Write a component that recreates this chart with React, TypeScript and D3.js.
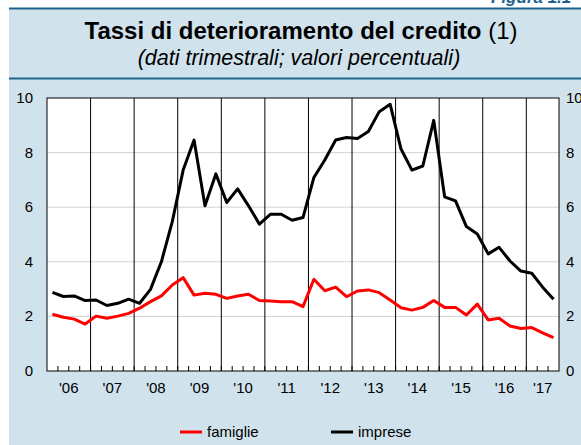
import React from 'react';
import * as d3 from 'd3';

const years = [2006, 2007, 2008, 2009, 2010, 2011, 2012, 2013, 2014, 2015, 2016, 2017];
const quartersPerYear = [4, 4, 4, 4, 4, 4, 4, 4, 4, 4, 4, 3];
const yearLabels = ["'06", "'07", "'08", "'09", "'10", "'11", "'12", "'13", "'14", "'15", "'16", "'17"];
const yTicks = [0, 2, 4, 6, 8, 10];

const famiglie = [
  2.08, 1.97, 1.90, 1.72, 2.01, 1.93, 2.01, 2.11, 2.30, 2.54, 2.75, 3.15,
  3.42, 2.78, 2.85, 2.81, 2.66, 2.75, 2.81, 2.58, 2.56, 2.54, 2.54, 2.36,
  3.36, 2.94, 3.07, 2.72, 2.93, 2.97, 2.87, 2.60, 2.32, 2.23, 2.33, 2.58,
  2.33, 2.33, 2.05, 2.45, 1.87, 1.93, 1.65, 1.56, 1.59, 1.40, 1.22,
];
const imprese = [
  2.88, 2.73, 2.75, 2.58, 2.60, 2.40, 2.48, 2.63, 2.48, 2.99, 4.00, 5.47,
  7.36, 8.46, 6.05, 7.22, 6.17, 6.67, 6.05, 5.38, 5.74, 5.74, 5.52, 5.62,
  7.09, 7.73, 8.46, 8.55, 8.52, 8.77, 9.50, 9.77, 8.13, 7.36, 7.51, 9.18,
  6.38, 6.23, 5.29, 5.02, 4.29, 4.53, 4.03, 3.66, 3.58, 3.07, 2.63,
];

const quarters: string[] = [];
years.forEach((y, i) => {
  for (let q = 1; q <= quartersPerYear[i]; q++) quarters.push(`${y}Q${q}`);
});

const W = 581;
const H = 445;
const M = { left: 47, right: 559, top: 98, bottom: 371 };
const FONT = 'Liberation Sans, Arial, Helvetica, sans-serif';

export default function App() {
  const x = d3.scaleBand<string>().domain(quarters).range([M.left, M.right]).padding(0);
  const bw = x.bandwidth();
  const y = d3.scaleLinear().domain([0, 10]).range([M.bottom, M.top]);
  const cx = (i: number) => (x(quarters[i]) as number) + bw / 2;
  const line = d3
    .line<number>()
    .x((_, i) => cx(i))
    .y((d) => y(d));

  const yearStarts = years.map((yr) => x(`${yr}Q1`) as number);
  const yearEnds = years.map((yr, i) => (x(`${yr}Q${quartersPerYear[i]}`) as number) + bw);

  return (
    <svg width={W} height={H} style={{ position: 'absolute', left: 0, top: 0 }} fontFamily={FONT}>
      <rect x={0} y={0} width={W} height={H} fill="#ffffff" />
      <rect x={9} y={9} width={W - 9} height={H - 9} fill="#d0e2ec" />
      <line x1={9} x2={W} y1={8.5} y2={8.5} stroke="#1f6491" strokeWidth={2} />
      <line x1={9} x2={W} y1={78.5} y2={78.5} stroke="#1f6491" strokeWidth={2} />
      <text x={491} y={3} fill="#1f6491" fontSize={17} fontWeight="bold" fontStyle="italic">
        Figura 1.1
      </text>
      <text x={301} y={39} textAnchor="middle" fontSize={24} fill="#000">
        <tspan fontWeight="bold">Tassi di deterioramento del credito</tspan>
        <tspan> (1)</tspan>
      </text>
      <text x={299} y={65} textAnchor="middle" fontSize={21.5} fontStyle="italic" fill="#000">
        (dati trimestrali; valori percentuali)
      </text>

      <rect x={M.left} y={M.top} width={M.right - M.left} height={M.bottom - M.top} fill="#ffffff" />
      {yTicks.filter((t) => t > 0 && t < 10).map((t) => (
        <line key={'g' + t} x1={M.left} x2={M.right} y1={y(t)} y2={y(t)} stroke="#d2d2d2" strokeWidth={1} />
      ))}
      {quarters.map((q, i) =>
        i === 0 ? null : (
          <line key={'qt' + q} x1={x(q)} x2={x(q)} y1={M.bottom} y2={M.bottom - 5} stroke="#000" strokeWidth={1} />
        )
      )}
      {yearStarts.slice(1).map((xs, i) => (
        <line key={'yl' + i} x1={xs} x2={xs} y1={M.top} y2={M.bottom} stroke="#000" strokeWidth={1} />
      ))}
      <rect x={M.left} y={M.top} width={M.right - M.left} height={M.bottom - M.top} fill="none" stroke="#000" strokeWidth={1} />

      <path d={line(famiglie) || ''} fill="none" stroke="#ff0000" strokeWidth={3} strokeLinejoin="round" />
      <path d={line(imprese) || ''} fill="none" stroke="#000000" strokeWidth={3} strokeLinejoin="round" />

      {yTicks.map((t) => (
        <text key={'yl' + t} x={33} y={y(t) + 5} textAnchor="end" fontSize={15} fill="#000">
          {t}
        </text>
      ))}
      {yTicks.map((t) => (
        <text key={'yr' + t} x={566} y={y(t) + 5} textAnchor="start" fontSize={15} fill="#000">
          {t}
        </text>
      ))}
      {yearLabels.map((lab, i) => (
        <text key={'x' + lab} x={(yearStarts[i] + yearEnds[i]) / 2} y={393} textAnchor="middle" fontSize={15} fill="#000">
          {lab}
        </text>
      ))}

      <line x1={180} x2={202} y1={432} y2={432} stroke="#ff0000" strokeWidth={3} />
      <text x={207} y={437} fontSize={15} fill="#000">famiglie</text>
      <line x1={331} x2={353} y1={432} y2={432} stroke="#000" strokeWidth={3} />
      <text x={358} y={437} fontSize={15} fill="#000">imprese</text>
    </svg>
  );
}
